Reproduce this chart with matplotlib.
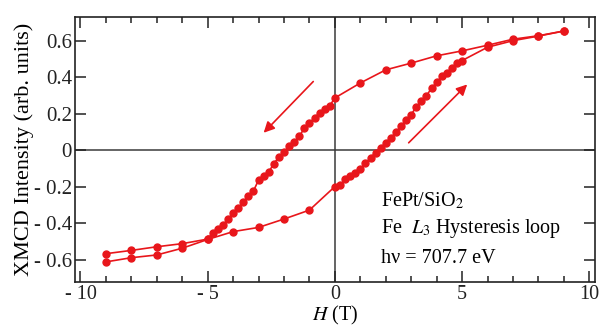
import matplotlib
matplotlib.use("Agg")
import matplotlib.pyplot as plt
from matplotlib.ticker import MultipleLocator, FixedLocator

# field sweep +9 T -> -9 T
h_down = [9, 8, 7, 6, 5, 4, 3, 2, 1, 0,
          -0.2, -0.4, -0.6, -0.8, -1.0, -1.2, -1.4, -1.6, -1.8, -2.0,
          -2.2, -2.4, -2.6, -2.8, -3.0, -3.2, -3.4, -3.6, -3.8, -4.0,
          -4.2, -4.4, -4.6, -4.8, -5.0, -6, -7, -8, -9]
m_down = [0.653, 0.627, 0.608, 0.575, 0.544, 0.517, 0.477, 0.440, 0.368, 0.286,
          0.244, 0.226, 0.204, 0.177, 0.149, 0.120, 0.076, 0.044, 0.022, -0.011,
          -0.038, -0.074, -0.120, -0.142, -0.164, -0.224, -0.251, -0.284, -0.316, -0.345,
          -0.378, -0.411, -0.433, -0.456, -0.488, -0.513, -0.530, -0.550, -0.568]

# field sweep -9 T -> +9 T
h_up = [-9, -8, -7, -6, -5, -4, -3, -2, -1, 0,
        0.2, 0.4, 0.6, 0.8, 1.0, 1.2, 1.4, 1.6, 1.8, 2.0,
        2.2, 2.4, 2.6, 2.8, 3.0, 3.2, 3.4, 3.6, 3.8, 4.0,
        4.2, 4.4, 4.6, 4.8, 5.0, 6, 7, 8, 9]
m_up = [-0.613, -0.590, -0.575, -0.538, -0.490, -0.447, -0.424, -0.378, -0.329, -0.200,
        -0.193, -0.160, -0.142, -0.127, -0.102, -0.073, -0.042, -0.014, 0.013, 0.040,
        0.068, 0.098, 0.131, 0.167, 0.195, 0.237, 0.267, 0.298, 0.340, 0.371,
        0.404, 0.422, 0.449, 0.477, 0.491, 0.564, 0.600, 0.625, 0.653]

x_ticks = [-10, -5, 0, 5, 10]
x_ticklabels = ["- 10", "- 5", "0", "5", "10"]
y_ticks = [-0.6, -0.4, -0.2, 0, 0.2, 0.4, 0.6]
y_ticklabels = ["- 0.6", "- 0.4", "- 0.2", "0", "0.2", "0.4", "0.6"]

RED = "#e8161b"
SERIF = "Liberation Serif"

plt.rcParams["font.family"] = SERIF
plt.rcParams["mathtext.fontset"] = "stix"

fig = plt.figure(figsize=(5.99, 3.29), dpi=100)
ax = fig.add_axes([0.125, 0.143, 0.869, 0.806])

ax.axhline(0, color="#3a3a3a", lw=1.1, zorder=1)
ax.axvline(0, color="#3a3a3a", lw=1.1, zorder=1)

ax.plot(h_down, m_down, "-o", color=RED, lw=1.2, ms=5, zorder=3)
ax.plot(h_up, m_up, "-o", color=RED, lw=1.2, ms=5, zorder=3)

# sweep direction arrows
ax.annotate("", xy=(-2.8, 0.095), xytext=(-0.85, 0.376),
            arrowprops=dict(arrowstyle="-|>", color=RED, lw=1.2,
                            mutation_scale=16, shrinkA=0, shrinkB=0))
ax.annotate("", xy=(5.2, 0.36), xytext=(2.9, 0.04),
            arrowprops=dict(arrowstyle="-|>", color=RED, lw=1.2,
                            mutation_scale=16, shrinkA=0, shrinkB=0))

ax.text(1.8, -0.31, "FePt/SiO$_2$", fontsize=14.5)
ax.text(1.8, -0.455, "Fe  $L_3$ Hysteresis loop", fontsize=14.5)
ax.text(1.8, -0.62, "h\u03bd = 707.7 eV", fontsize=14.5)

ax.set_xlim(-10.22, 10.24)
ax.set_ylim(-0.723, 0.731)

ax.xaxis.set_major_locator(FixedLocator(x_ticks))
ax.xaxis.set_minor_locator(MultipleLocator(1))
ax.set_xticklabels(x_ticklabels)
ax.set_yticks(y_ticks)
ax.set_yticklabels(y_ticklabels)

ax.tick_params(which="both", direction="in", top=True, right=True,
               width=1.1, labelsize=15, colors="#222222")
ax.tick_params(which="major", length=8)
ax.tick_params(which="minor", length=4.5)
ax.tick_params(axis="x", pad=2, labelsize=14.5)
ax.tick_params(axis="y", pad=2)

for s in ax.spines.values():
    s.set_linewidth(1.2)
    s.set_color("#222222")

ax.set_xlabel("$H$ (T)", fontsize=14.5, labelpad=0)
ax.set_ylabel("XMCD Intensity (arb. units)", fontsize=16, labelpad=0)

fig.savefig("out.png", dpi=100)
